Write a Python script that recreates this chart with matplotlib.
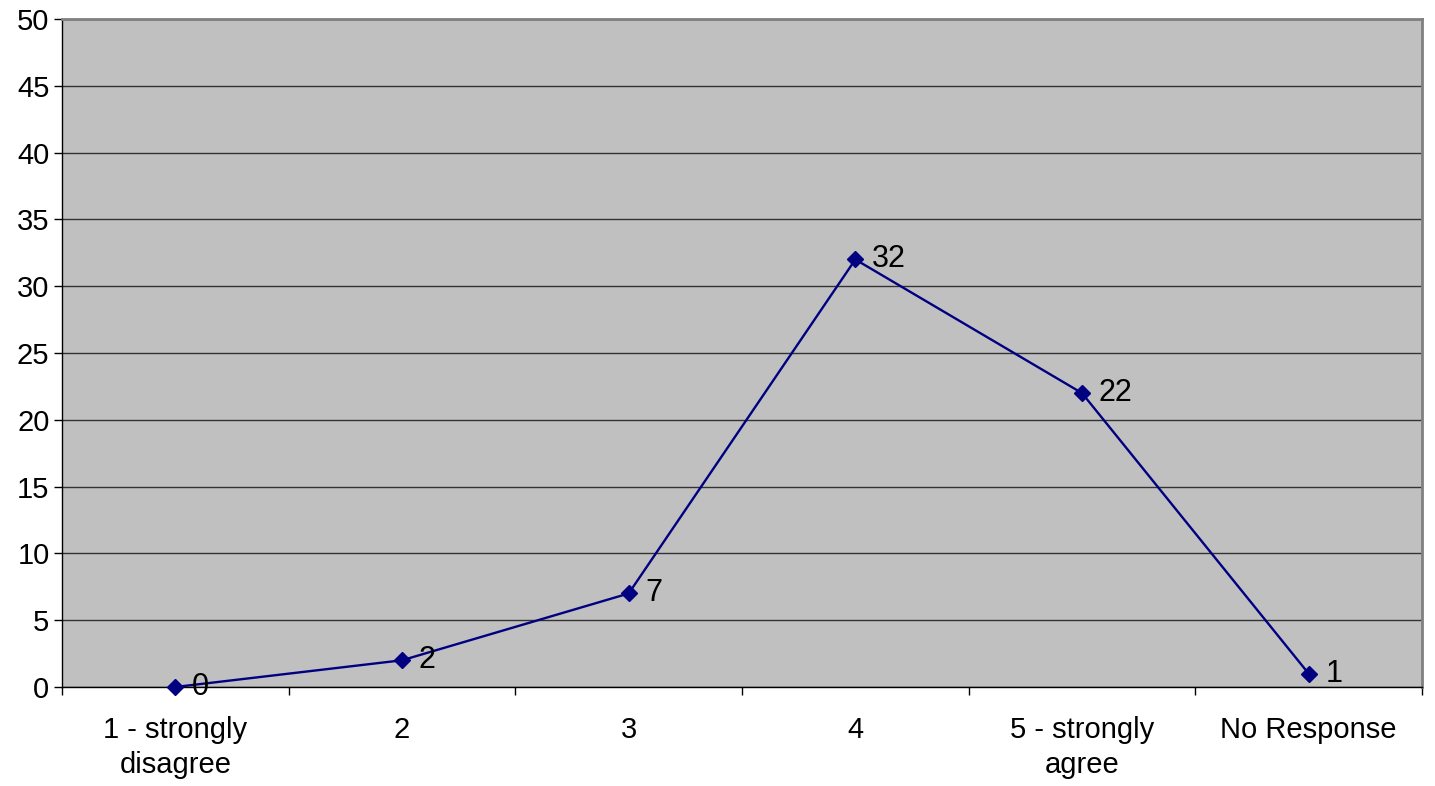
import matplotlib.pyplot as plt

# data
categories = ["1 - strongly\ndisagree", "2", "3", "4", "5 - strongly\nagree", "No Response"]
counts = [0, 2, 7, 32, 22, 1]
y_ticks = list(range(0, 51, 5))

plt.rcParams["font.family"] = ["Liberation Sans", "DejaVu Sans"]

fig = plt.figure(figsize=(14.35, 7.86), dpi=100)
ax = fig.add_axes([62 / 1435, 1 - 687 / 786, 1360 / 1435, 668 / 786])
ax.set_facecolor("#c0c0c0")

x = list(range(len(categories)))
ax.plot(x, counts, color="#000080", lw=1.7, marker="D", ms=8.5, zorder=3, clip_on=False)
for xi, v in zip(x, counts):
    ax.annotate(str(v), (xi, v), xytext=(12, 0), textcoords="offset points",
                ha="left", va="center", fontsize=22, color="black")

ax.set_xlim(-0.5, len(categories) - 0.5)
ax.set_ylim(0, 50)
ax.set_yticks(y_ticks)
ax.set_yticklabels([str(t) for t in y_ticks], fontsize=21)
ax.yaxis.grid(True, color="#333333", lw=1)
ax.set_axisbelow(True)

# category boundaries get tick marks, labels sit at centers
ax.set_xticks([i - 0.5 for i in range(len(categories) + 1)])
ax.set_xticklabels([])
ax.set_xticks(x, minor=True)
ax.set_xticklabels(categories, minor=True, fontsize=21, linespacing=1.3)
ax.tick_params(axis="x", which="minor", length=0, pad=21)
ax.tick_params(axis="x", which="major", length=6, width=1, color="black")
ax.tick_params(axis="y", length=6, width=1, color="black", pad=3)

for side in ["top", "right"]:
    ax.spines[side].set_color("#808080")
    ax.spines[side].set_linewidth(2)
for side in ["left", "bottom"]:
    ax.spines[side].set_color("black")
    ax.spines[side].set_linewidth(1)

fig.savefig("out.png", dpi=100)
